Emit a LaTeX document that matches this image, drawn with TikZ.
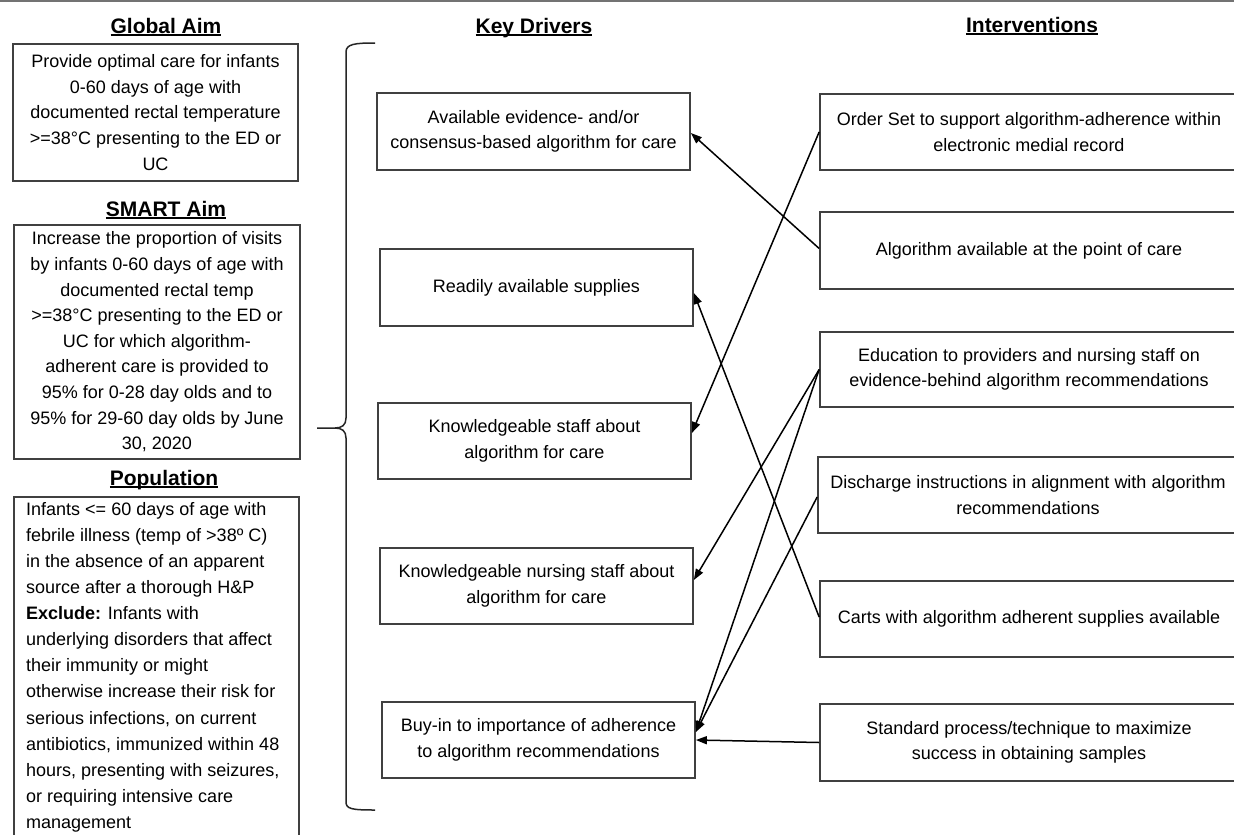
\documentclass[tikz,border=0pt]{standalone}
\usepackage{fontspec}
\setmainfont{Liberation Sans}
\usetikzlibrary{arrows.meta}
\newcommand{\headul}[1]{\setbox0\hbox{#1}\rlap{\rule[-2.6pt]{\wd0}{1.3pt}}\box0}
\tikzset{
  box/.style={draw=black!75, line width=1.7pt, align=center, inner sep=0pt,
    font=\fontsize{18}{25.6}\selectfont},
  head/.style={anchor=base, inner sep=0pt, font=\fontsize{21}{25}\selectfont\bfseries},
  conn/.style={line width=1.5pt, -{Triangle[length=11pt,width=8pt]}},
}
\begin{document}
\begin{tikzpicture}[x=1pt,y=-1pt]
\useasboundingbox (0,0) rectangle (1234,835);
\clip (0,0) rectangle (1234,835);
\fill[white] (0,0) rectangle (1234,835);
\draw[black!55, line width=1.5pt] (0,0.8) -- (1234,0.8);

% headings
\node[head] (hglobal) at (166,33) {\headul{Global Aim}};
\node[head] (hsmart) at (166,216) {\headul{SMART Aim}};
\node[head] (hpop) at (164,485) {\headul{Population}};
\node[head] (hkd) at (534,33) {\headul{Key Drivers}};
\node[head] (hint) at (1032,32) {\headul{Interventions}};

% left column
\node[box, minimum width=285, minimum height=137] (global) at (155.5,112.5)
  {Provide optimal care for infants\\0-60 days of age with\\documented rectal temperature\\>=38°C presenting to the ED or\\UC};
\node[box, minimum width=286, minimum height=234] (smart) at (157,342)
  {Increase the proportion of visits\\by infants 0-60 days of age with\\documented rectal temp\\>=38°C presenting to the ED or\\UC for which algorithm-\\adherent care is provided to\\95\% for 0-28 day olds and to\\95\% for 29-60 day olds by June\\30, 2020};
\node[box, minimum width=285, minimum height=340, anchor=north west] (pop) at (13,496) {};
\node[anchor=north west, align=left, inner sep=0pt, font=\fontsize{18}{26.1}\selectfont] (poptext) at (26,502)
  {Infants <= 60 days of age with\\febrile illness (temp of >38º C)\\in the absence of an apparent\\source after a thorough H\&P\\\textbf{Exclude:} Infants with\\underlying disorders that affect\\their immunity or might\\otherwise increase their risk for\\serious infections, on current\\antibiotics, immunized within 48\\hours, presenting with seizures,\\or requiring intensive care\\management};

% brace
\draw[black!85, line width=1.5pt] (375,43) .. controls (355,43) and (346,44) .. (346,52) -- (346,418)
  .. controls (346,425) and (342,428) .. (335,428) -- (317,428);
\draw[black!85, line width=1.5pt] (335,428) .. controls (342,428) and (346,431) .. (346,438) -- (346,802)
  .. controls (346,809) and (352,810) .. (375,810);

% key drivers
\node[box, minimum width=313, minimum height=77] (kd1) at (533.5,131.5)
  {Available evidence- and/or\\consensus-based algorithm for care};
\node[box, minimum width=313, minimum height=77] (kd2) at (536.5,287.5)
  {Readily available supplies};
\node[box, minimum width=313, minimum height=76] (kd3) at (534.5,441)
  {Knowledgeable staff about\\algorithm for care};
\node[box, minimum width=313, minimum height=76] (kd4) at (536.5,586)
  {Knowledgeable nursing staff about\\algorithm for care};
\node[box, minimum width=313, minimum height=76] (kd5) at (538.5,740)
  {Buy-in to importance of adherence\\to algorithm recommendations};

% interventions
\node[box, minimum width=418, minimum height=76] (i1) at (1029,132)
  {Order Set to support algorithm-adherence within\\electronic medial record};
\node[box, minimum width=418, minimum height=77] (i2) at (1029,250.5)
  {Algorithm available at the point of care};
\node[box, minimum width=418, minimum height=75] (i3) at (1029,369.5)
  {Education to providers and nursing staff on\\evidence-behind algorithm recommendations};
\node[box, minimum width=420, minimum height=76] (i4) at (1028,495)
  {Discharge instructions in alignment with algorithm\\recommendations};
\node[box, minimum width=418, minimum height=76] (i5) at (1029,619)
  {Carts with algorithm adherent supplies available};
\node[box, minimum width=418, minimum height=77] (i6) at (1029,742.5)
  {Standard process/technique to maximize\\success in obtaining samples};

% connectors
\draw[conn] ([yshift=2pt]i2.west) -- ([yshift=-1.5pt]kd1.east);
\draw[conn] (i1.west) -- ([yshift=8pt]kd3.east);
\draw[conn] ([yshift=2pt]i5.west) -- ([yshift=-5.5pt]kd2.east);
\draw[conn] (i3.west) -- ([yshift=6pt]kd4.east);
\draw[conn] (i3.west) -- ([yshift=8pt]kd5.east);
\draw[conn] ([yshift=-2pt]i4.west) -- ([yshift=8pt]kd5.east);
\draw[conn] (i6.west) -- (kd5.east);
\end{tikzpicture}
\end{document}
